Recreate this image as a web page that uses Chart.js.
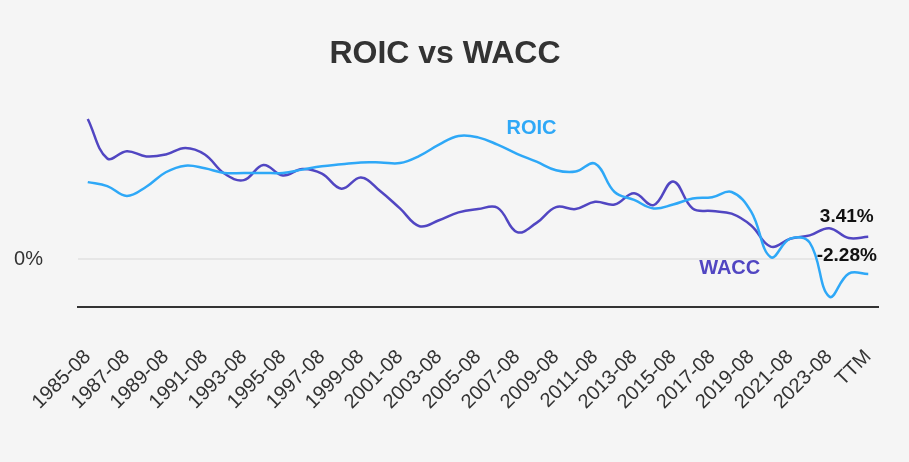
<!DOCTYPE html>
<html>
<head>
<meta charset="utf-8">
<script src="https://cdn.jsdelivr.net/npm/chart.js@4"></script>
<style>
  html, body { margin: 0; padding: 0; background: #f5f5f5; }
  #wrap { width: 909px; height: 462px; }
</style>
</head>
<body>
<div id="wrap"><canvas id="chart"></canvas></div>
<script>
const years = [];
for (let y = 1985; y <= 2024; y++) years.push(y + '-08');
const labels = years.concat(['TTM']);

const roic = [11.7, 11.1, 9.6, 11.0, 13.2, 14.2, 13.8, 13.1, 13.1, 13.1,
  13.1, 13.6, 14.1, 14.4, 14.7, 14.7, 14.6, 15.7, 17.4, 18.7,
  18.5, 17.4, 16.0, 14.8, 13.5, 13.3, 14.5, 10.2, 9.0, 7.7,
  8.3, 9.2, 9.4, 10.2, 7.2, 0.3, 3.1, 2.5, -5.7, -2.2,
  -2.28];
const wacc = [21.3, 15.3, 16.4, 15.6, 15.9, 16.9, 15.9, 13.0, 12.0, 14.3,
  12.7, 13.7, 13.0, 10.7, 12.4, 10.3, 7.7, 5.0, 5.9, 7.1,
  7.6, 7.8, 4.1, 5.5, 7.9, 7.6, 8.7, 8.3, 10.0, 8.2,
  11.8, 7.7, 7.3, 6.9, 5.1, 1.9, 3.1, 3.6, 4.7, 3.2,
  3.41];

const ROIC_COLOR = '#2ea8f7';
const WACC_COLOR = '#5146c2';
const FONT = "Arial, 'Liberation Sans', sans-serif";

// free-floating text (series names and last values)
const textLabels = {
  id: 'textLabels',
  afterDatasetsDraw(chart) {
    const {ctx, scales: {x, y}} = chart;
    const last = labels.length - 1;
    const items = [
      {text: 'ROIC', i: 22.74, v: 19.9, color: ROIC_COLOR, size: 20},
      {text: 'WACC', i: 32.9, v: -1.45, color: WACC_COLOR, size: 20},
      {text: wacc[last].toFixed(2) + '%', i: 38.9, v: wacc[last] + 3.0, color: '#111', size: 19},
      {text: roic[last].toFixed(2) + '%', i: 38.9, v: roic[last] + 2.8, color: '#111', size: 19},
    ];
    ctx.save();
    ctx.textAlign = 'center';
    ctx.textBaseline = 'middle';
    items.forEach((t) => {
      ctx.font = 'bold ' + t.size + 'px ' + FONT;
      ctx.fillStyle = t.color;
      ctx.fillText(t.text, x.getPixelForValue(t.i), y.getPixelForValue(t.v));
    });
    ctx.restore();
  }
};

new Chart(document.getElementById('chart'), {
  type: 'line',
  data: {
    labels: labels,
    datasets: [
      {label: 'ROIC', data: roic, borderColor: ROIC_COLOR, borderWidth: 2.5, tension: 0.4, pointRadius: 0},
      {label: 'WACC', data: wacc, borderColor: WACC_COLOR, borderWidth: 2.5, tension: 0.4, pointRadius: 0},
    ]
  },
  options: {
    responsive: true,
    maintainAspectRatio: false,
    animation: false,
    layout: {padding: {left: 12, right: 31, top: 0, bottom: 18}},
    plugins: {
      legend: {display: false},
      tooltip: {enabled: false},
      title: {
        display: true,
        text: 'ROIC vs WACC',
        color: '#333',
        font: {family: FONT, size: 32, weight: 'bold'},
        padding: {top: 35, bottom: 37}
      }
    },
    scales: {
      x: {
        offset: true,
        grid: {display: false},
        border: {display: true, color: '#333', width: 2},
        afterFit: (axis) => { axis.paddingRight = 0; },
        ticks: {
          autoSkip: false,
          minRotation: 45,
          maxRotation: 45,
          padding: 30,
          color: '#333',
          font: {family: FONT, size: 20},
          callback: (v, i) => (i % 2 === 0 ? labels[i] : '')
        }
      },
      y: {
        min: -7.3,
        max: 22.6,
        afterBuildTicks: (axis) => { axis.ticks = [{value: 0}]; },
        afterFit: (axis) => { axis.width = 66; },
        grid: {color: '#e6e6e6', lineWidth: 2, drawTicks: false},
        border: {display: false},
        ticks: {
          padding: 35,
          color: '#333',
          font: {family: FONT, size: 20},
          callback: (v) => v + '%'
        }
      }
    }
  },
  plugins: [textLabels]
});
</script>
</body>
</html>
